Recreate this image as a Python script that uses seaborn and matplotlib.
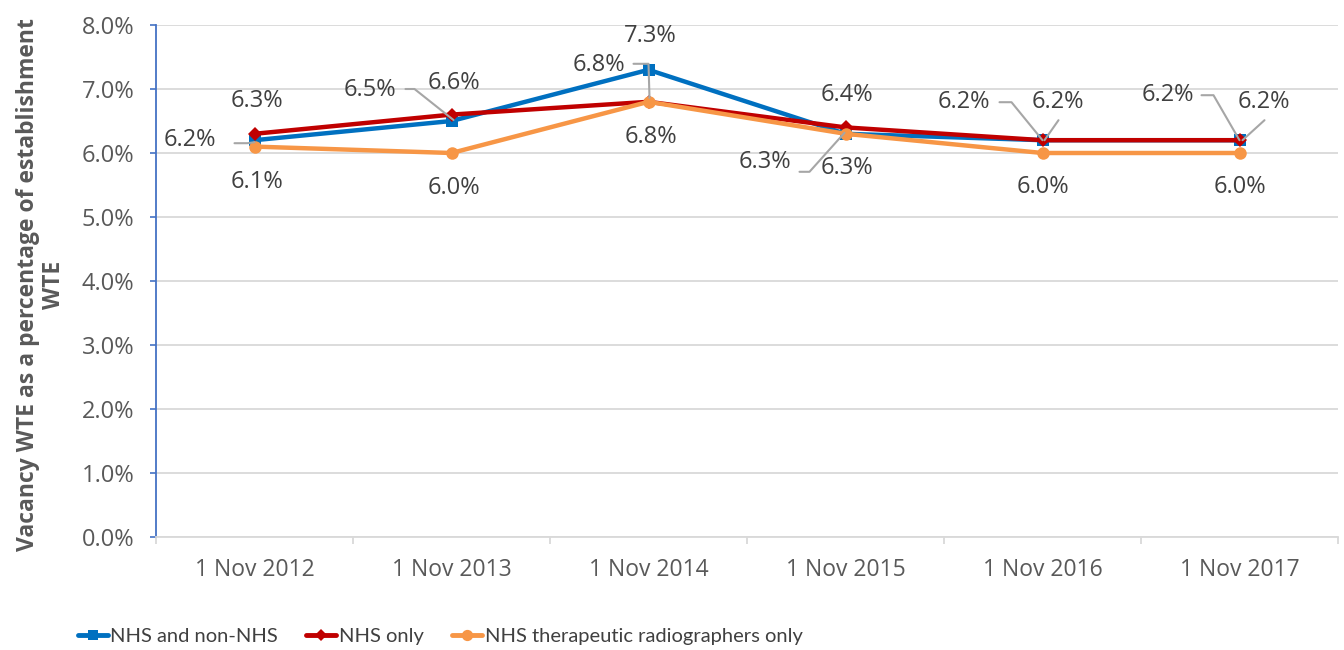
import matplotlib
matplotlib.use("Agg")
import numpy as np
import pandas as pd
import matplotlib.pyplot as plt
import seaborn as sns
from matplotlib.lines import Line2D
from matplotlib.transforms import IdentityTransform

# ---------------- data ----------------
categories = ["1 Nov 2012", "1 Nov 2013", "1 Nov 2014", "1 Nov 2015", "1 Nov 2016", "1 Nov 2017"]
series_names = ["NHS and non-NHS", "NHS only", "NHS therapeutic radiographers only"]
nhs_and_non_nhs = [6.2, 6.5, 7.3, 6.3, 6.2, 6.2]
nhs_only = [6.3, 6.6, 6.8, 6.4, 6.2, 6.2]
nhs_therapeutic = [6.1, 6.0, 6.8, 6.3, 6.0, 6.0]
y_ticks = [0, 1, 2, 3, 4, 5, 6, 7, 8]
y_tick_labels = [f"{t:.1f}%" for t in y_ticks]
y_title = "Vacancy WTE as a percentage of establishment\nWTE"

# ---------------- styles ----------------
colors = {"NHS and non-NHS": "#0070C0",
          "NHS only": "#C00000",
          "NHS therapeutic radiographers only": "#F79646"}
markers = {"NHS and non-NHS": "s",
           "NHS only": "D",
           "NHS therapeutic radiographers only": "o"}
msizes = {"NHS and non-NHS": 8, "NHS only": 7, "NHS therapeutic radiographers only": 9}

# label placement: (dx, dy) in image pixels (y down) relative to the point, optional leader path
label_specs = {
    "NHS and non-NHS": [
        ((-65, 0), [(-20, 3), (-7, 3), (0, 2)]),
        ((-82, -31), [(-46, -32), (-37, -32), (2, -1)]),
        ((2, -34), None),
        ((1, 34), None),
        ((-79, -38), [(-43, -38), (-31, -38), (0, 0)]),
        ((-72, -45), [(-38, -45), (-26, -45), (0, 0)]),
    ],
    "NHS only": [
        ((2, -33), None),
        ((2, -32), None),
        ((-50, -37), [(-15, -38), (0, -38), (1, -4)]),
        ((1, -32), None),
        ((15, -38), [(16, -20), (2, 0)]),
        ((24, -38), [(25, -20), (3, 0)]),
    ],
    "NHS therapeutic radiographers only": [
        ((2, 35), None),
        ((2, 35), None),
        ((2, 35), None),
        ((-81, 28), [(-46, 38), (-36, 38), (-1, -1)]),
        ((0, 34), None),
        ((0, 34), None),
    ],
}

W, H = 1344, 650
sns.set_theme(style="white")
plt.rcParams["font.family"] = ["Open Sans", "DejaVu Sans"]

fig = plt.figure(figsize=(W / 100, H / 100), dpi=100)
ax_l, ax_r, ax_t, ax_b = 156, 1338, 25, 537
ax = fig.add_axes([ax_l / W, 1 - ax_b / H, (ax_r - ax_l) / W, (ax_b - ax_t) / H])

values = {"NHS and non-NHS": nhs_and_non_nhs,
          "NHS only": nhs_only,
          "NHS therapeutic radiographers only": nhs_therapeutic}
df = pd.DataFrame({
    "date": categories * 3,
    "pos": list(range(len(categories))) * 3,
    "value": nhs_and_non_nhs + nhs_only + nhs_therapeutic,
    "series": [s for s in series_names for _ in categories],
})

for s in series_names:
    sub = df[df["series"] == s]
    sns.lineplot(data=sub, x="pos", y="value", color=colors[s], marker=markers[s],
                 markersize=msizes[s], linewidth=3.2, ax=ax, legend=False, sort=False,
                 markeredgecolor=colors[s], markeredgewidth=0, zorder=3)

ax.set_xlim(-0.5, len(categories) - 0.5)
ax.set_ylim(0, 8)
ax.set_yticks(y_ticks)
ax.set_yticklabels(y_tick_labels)
ax.set_xticks(range(len(categories)))
ax.set_xticklabels(categories)
ax.set_xticks(np.arange(-0.5, len(categories), 1.0), minor=True)
ax.set_xlabel("")
ax.set_ylabel("")

ax.yaxis.grid(True, color="#D9D9D9", linewidth=1.3)
ax.xaxis.grid(False)
ax.set_axisbelow(True)
for sp in ["top", "right"]:
    ax.spines[sp].set_visible(False)
ax.spines["left"].set_color("#4472C4")
ax.spines["left"].set_linewidth(1.3)
ax.spines["bottom"].set_color("#D9D9D9")
ax.spines["bottom"].set_linewidth(1.3)

ax.tick_params(axis="y", which="major", left=True, length=4.5, width=1.2, color="#4472C4",
               labelsize=17, labelcolor="#595959", pad=11)
ax.tick_params(axis="x", which="major", bottom=False, length=0, labelsize=16.5,
               labelcolor="#595959", pad=15)
ax.tick_params(axis="x", which="minor", bottom=True, length=5, width=1.3, color="#D9D9D9")

fig.text(41 / W, 1 - 285 / H, y_title, rotation=90, ha="center", va="center",
         fontsize=16.5, fontweight="bold", color="#595959", multialignment="center",
         linespacing=1.1)

# data labels
fig.canvas.draw()
for s in series_names:
    for i, v in enumerate(values[s]):
        (dx, dy), leader = label_specs[s][i]
        ax.annotate(f"{v:.1f}%", (i, v), xytext=(dx, -dy), textcoords="offset pixels",
                    ha="center", va="center", fontsize=17, color="#404040", zorder=5,
                    annotation_clip=False)
        if leader:
            px, py = ax.transData.transform((i, v))
            xs = [px + a for a, b in leader]
            ys = [py - b for a, b in leader]
            ax.add_line(Line2D(xs, ys, transform=IdentityTransform(), color="#A6A6A6",
                               linewidth=1.5, zorder=4, clip_on=False))

handles = [Line2D([0], [0], color=colors[s], marker=markers[s], markersize=msizes[s] * 0.9,
                  markeredgewidth=0, linewidth=3.5) for s in series_names]
leg = fig.legend(handles, series_names, loc="center", bbox_to_anchor=(440 / W, 1 - 636 / H),
                 ncol=3, frameon=False, handlelength=1.5, handletextpad=0.12,
                 columnspacing=1.4, prop={"family": ["Lato", "DejaVu Sans"], "size": 14.5})
for t in leg.get_texts():
    t.set_color("#404040")

fig.savefig("out.png", dpi=100)
